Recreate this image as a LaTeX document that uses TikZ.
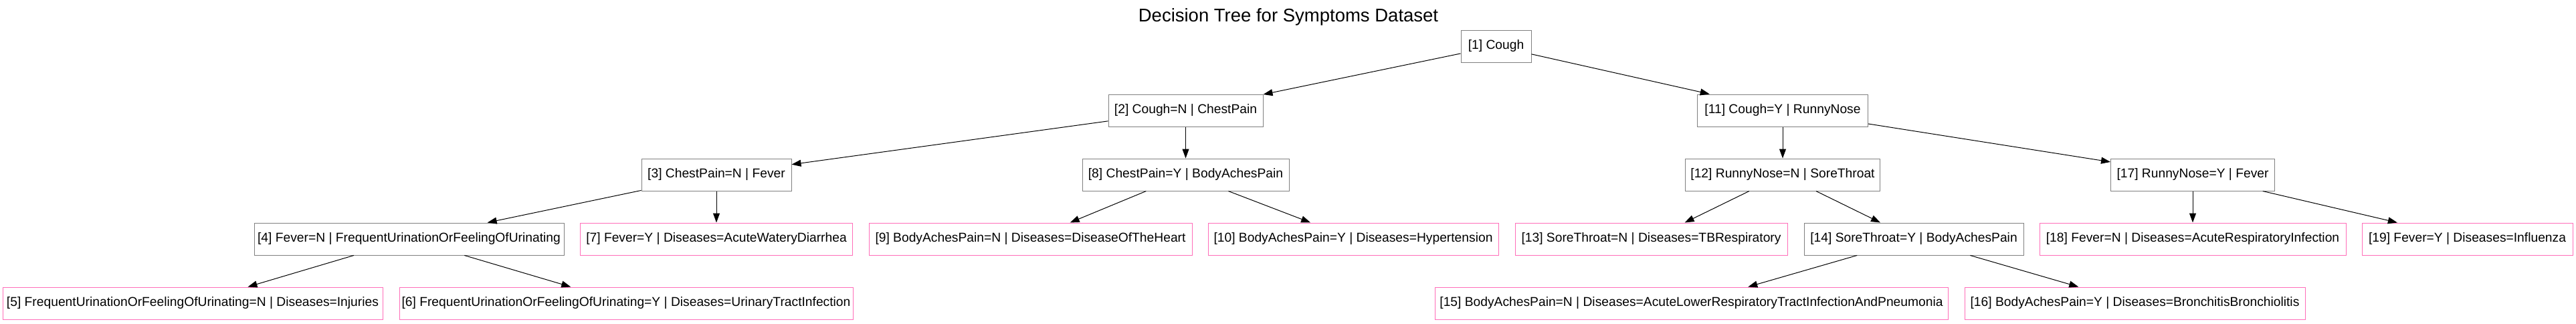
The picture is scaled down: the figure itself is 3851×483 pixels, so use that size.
\documentclass[tikz,border=0pt]{standalone}
\usepackage{fontspec}
\setmainfont{Liberation Sans}
\usetikzlibrary{arrows.meta}
\definecolor{innergray}{RGB}{128,128,128}
\definecolor{leafpink}{RGB}{255,110,185}
\begin{document}
\begin{tikzpicture}[x=1pt,y=-1pt,
  every node/.style={font=\fontsize{19.25pt}{23pt}\selectfont, inner sep=0pt, minimum height=48pt},
  splitbox/.style={draw=innergray, line width=1pt, rectangle},
  leafbox/.style={draw=leafpink, line width=1pt, rectangle},
  edge/.style={draw=black, line width=1pt, -{Triangle[length=14pt,width=10pt]}}]
\useasboundingbox (0,0) rectangle (3851,483);
\fill[white] (0,0) rectangle (3851,483);
\node[font=\fontsize{27.5pt}{32pt}\selectfont, anchor=base, minimum height=0pt] (title) at (1926,32) {Decision Tree for Symptoms Dataset};
% row 1
\node[splitbox, minimum width=105pt] (n1) at (2236.5,69) {[1] Cough};
% row 2
\node[splitbox, minimum width=231pt] (n2) at (1772.5,165) {[2] Cough=N | ChestPain};
\node[splitbox, minimum width=255pt] (n11) at (2665,165) {[11] Cough=Y | RunnyNose};
% row 3
\node[splitbox, minimum width=224pt] (n3) at (1071,261) {[3] ChestPain=N | Fever};
\node[splitbox, minimum width=309pt] (n8) at (1772.5,261) {[8] ChestPain=Y | BodyAchesPain};
\node[splitbox, minimum width=291pt] (n12) at (2665,261) {[12] RunnyNose=N | SoreThroat};
\node[splitbox, minimum width=245pt] (n17) at (3278,261) {[17] RunnyNose=Y | Fever};
% row 4
\node[splitbox, minimum width=463pt] (n4) at (611.5,357) {[4] Fever=N | FrequentUrinationOrFeelingOfUrinating};
\node[leafbox, minimum width=407pt] (n7) at (1071,357) {[7] Fever=Y | Diseases=AcuteWateryDiarrhea};
\node[leafbox, minimum width=483pt] (n9) at (1540.5,357) {[9] BodyAchesPain=N | Diseases=DiseaseOfTheHeart};
\node[leafbox, minimum width=434pt] (n10) at (2023,357) {[10] BodyAchesPain=Y | Diseases=Hypertension};
\node[leafbox, minimum width=407pt] (n13) at (2468.5,357) {[13] SoreThroat=N | Diseases=TBRespiratory};
\node[splitbox, minimum width=328pt] (n14) at (2861,357) {[14] SoreThroat=Y | BodyAchesPain};
\node[leafbox, minimum width=458pt] (n18) at (3278,357) {[18] Fever=N | Diseases=AcuteRespiratoryInfection};
\node[leafbox, minimum width=315pt] (n19) at (3688.5,357) {[19] Fever=Y | Diseases=Influenza};
% row 5
\node[leafbox, minimum width=568pt] (n5) at (288,453) {[5] FrequentUrinationOrFeelingOfUrinating=N | Diseases=Injuries};
\node[leafbox, minimum width=678pt] (n6) at (936,453) {[6] FrequentUrinationOrFeelingOfUrinating=Y | Diseases=UrinaryTractInfection};
\node[leafbox, minimum width=767pt] (n15) at (2528.5,453) {[15] BodyAchesPain=N | Diseases=AcuteLowerRespiratoryTractInfectionAndPneumonia};
\node[leafbox, minimum width=509pt] (n16) at (3191.5,453) {[16] BodyAchesPain=Y | Diseases=BronchitisBronchiolitis};
% edges
\draw[edge] (n1) -- (n2);
\draw[edge] (n1) -- (n11);
\draw[edge] (n2) -- (n3);
\draw[edge] (n2) -- (n8);
\draw[edge] (n3) -- (n4);
\draw[edge] (n3) -- (n7);
\draw[edge] (n4) -- (n5);
\draw[edge] (n4) -- (n6);
\draw[edge] (n8) -- (n9);
\draw[edge] (n8) -- (n10);
\draw[edge] (n11) -- (n12);
\draw[edge] (n11) -- (n17);
\draw[edge] (n12) -- (n13);
\draw[edge] (n12) -- (n14);
\draw[edge] (n14) -- (n15);
\draw[edge] (n14) -- (n16);
\draw[edge] (n17) -- (n18);
\draw[edge] (n17) -- (n19);
\end{tikzpicture}
\end{document}
